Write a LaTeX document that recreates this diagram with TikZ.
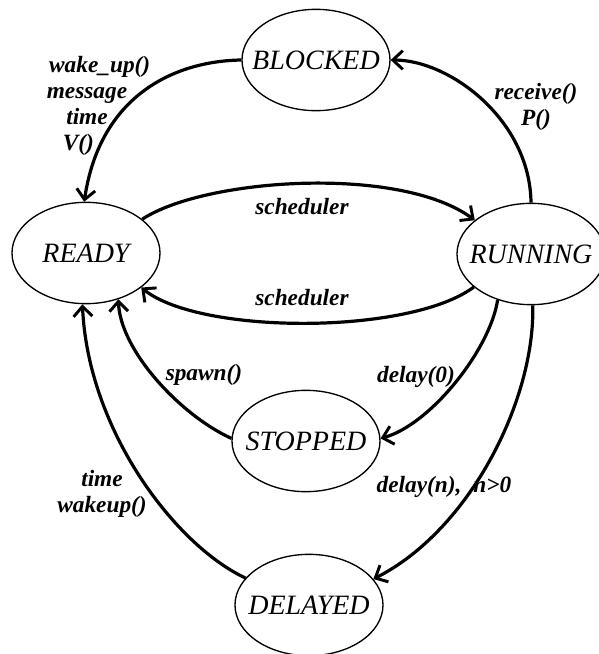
\documentclass[tikz,border=0pt]{standalone}
\usepackage{fontspec}
\setmainfont{Liberation Serif}
\usetikzlibrary{shapes.geometric,arrows.meta}

\tikzset{
  state/.style={draw, ellipse, line width=1pt, inner sep=0pt,
    minimum width=111pt, minimum height=76pt},
  statetext/.style={font=\fontsize{21}{24}\selectfont\itshape},
  trans/.style={line width=2.4pt,
    -{Straight Barb[length=7.5pt,width=14pt,line width=2.2pt]}},
  tlabel/.style={font=\fontsize{17.5}{19.5}\selectfont\bfseries\itshape,
    inner sep=1pt, align=center}
}

\begin{document}
\begin{tikzpicture}[x=0.75pt, y=-0.75pt]
  \useasboundingbox (0,0) rectangle (599,654);

  % states
  \node[state, label={[statetext, name=blocked-t]center:BLOCKED}] (blocked) at (316,60) {};
  \node[state, label={[statetext, name=ready-t]center:READY}]     (ready)   at (86,253) {};
  \node[state, label={[statetext, name=running-t]center:RUNNING}] (running) at (531,254) {};
  \node[state, label={[statetext, name=stopped-t]center:STOPPED}] (stopped) at (306,441) {};
  \node[state, label={[statetext, name=delayed-t]center:DELAYED}] (delayed) at (309,605) {};

  % transitions
  \draw[trans] (blocked.180) .. controls (175,61) and (100,95) .. (ready.92);
  \draw[trans] (running.90) .. controls (530,120) and (450,60) .. (blocked.0);
  \draw[trans] (ready.31) .. controls (205,178) and (400,165) .. (running.149);
  \draw[trans] (running.210) .. controls (410,335) and (200,335) .. (ready.-32);
  \draw[trans] (running.234) .. controls (490,350) and (430,425) .. (stopped.2);
  \draw[trans] (stopped.178) .. controls (180,415) and (120,350) .. (ready.-55);
  \draw[trans] (running.-88) .. controls (535,400) and (470,530) .. (delayed.22);
  \draw[trans] (delayed.157) .. controls (175,545) and (88,430) .. (ready.-94);

  % transition labels
  \node[tlabel] (lwake)  at (87,106)
    {\hspace*{19pt}wake\_up()\\message\\time\\V()\hspace*{13pt}};
  \node[tlabel] (lrecv)  at (536,107) {receive()\\P()};
  \node[tlabel] (lsch1)  at (302,207) {scheduler};
  \node[tlabel] (lsch2)  at (302,298) {scheduler};
  \node[tlabel] (ldel0)  at (416,377) {delay(0)};
  \node[tlabel] (lspawn) at (204,375) {spawn()};
  \node[tlabel] (ldeln)  at (444,487) {delay(n),\hspace{9pt}n>0};
  \node[tlabel] (ltime)  at (102,494) {time\\wakeup()};
\end{tikzpicture}
\end{document}
